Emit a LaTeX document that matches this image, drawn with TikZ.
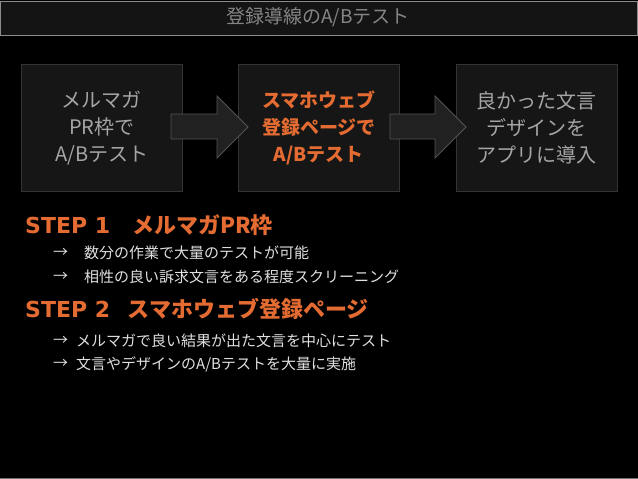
\documentclass[tikz,border=0pt]{standalone}
\usepackage{fontspec}
\setmainfont{Noto Sans CJK JP}
\newfontfamily\latinb{DejaVu Sans}
\definecolor{orng}{RGB}{228,108,50}
\definecolor{boxfill}{RGB}{22,22,22}
\definecolor{boxline}{RGB}{52,52,52}
\definecolor{graytxt}{RGB}{165,165,165}
\tikzset{
  stagebox/.style={draw=boxline, fill=boxfill, line width=0.8pt, minimum width=161pt, minimum height=127pt, inner sep=0pt, anchor=north west},
  flowarrow/.style={draw=white!33!black, fill=white!13!black, line width=0.8pt, line join=miter},
  boxtext/.style={font=\fontsize{20}{27}\selectfont, align=center, text=graytxt},
  steptitle/.style={anchor=west, text=orng, font=\fontsize{22}{24}\selectfont\bfseries, inner sep=0pt},
  bullet/.style={anchor=west, text=white!88!black, font=\fontsize{15}{17}\selectfont, inner sep=0pt}
}
\begin{document}
\begin{tikzpicture}[x=1pt,y=-1pt]
\fill[black] (0,0) rectangle (638,479);
\useasboundingbox (0,0) rectangle (638,479);
% title bar
\draw[draw=white!55!black, fill=white!8!black, line width=0.8pt] (0.5,1) rectangle (637.5,35.5);
\node[text=white!52!black, font=\fontsize{19}{20}\selectfont] (title) at (318,17.5) {登録導線のA/Bテスト};
\draw[white!45!black, line width=0.8pt] (0,478.5) -- (638,478.5);
% boxes
\node[stagebox] (b1) at (21,64) {};
\node[stagebox] (b2) at (238,64) {};
\node[stagebox] (b3) at (456,64) {};
\node[boxtext] at (b1.center) {メルマガ\\PR枠で\\A/Bテスト};
\node[boxtext, text=orng, font=\fontsize{19}{27}\selectfont\bfseries] at (b2.center) {スマホウェブ\\登録ページで\\A/Bテスト};
\node[boxtext] at (b3.center) {良かった文言\\デザインを\\アプリに導入};
% arrows
\draw[flowarrow] (171,114) -- (217,114) -- (217,96) -- (248,127) -- (217,158) -- (217,139) -- (171,139) -- cycle;
\draw[flowarrow] (390,114) -- (435,114) -- (435,96) -- (466,127) -- (435,158) -- (435,139) -- (390,139) -- cycle;
% steps
\node[steptitle] (s1) at (25,225) {{\latinb STEP 1}\hspace{1.0em}メルマガPR枠};
\node[bullet] (a1) at (53,253) {→};
\node[bullet] (t1) at (84,253) {数分の作業で大量のテストが可能};
\node[bullet] (a2) at (53,277) {→};
\node[bullet] (t2) at (84,277) {相性の良い訴求文言をある程度スクリーニング};
\node[steptitle] (s2) at (25,309) {{\latinb STEP 2}\hspace{0.8em}スマホウェブ登録ページ};
\node[bullet] (a3) at (53,341) {→};
\node[bullet] (t3) at (76,341) {メルマガで良い結果が出た文言を中心にテスト};
\node[bullet] (a4) at (53,364) {→};
\node[bullet] (t4) at (76,364) {文言やデザインのA/Bテストを大量に実施};
\end{tikzpicture}
\end{document}
